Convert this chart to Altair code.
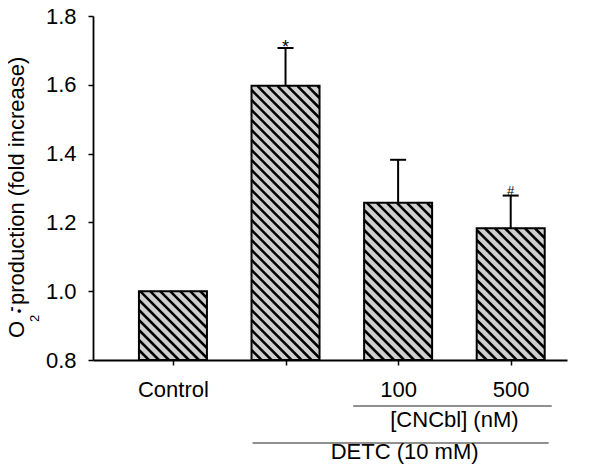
import json
import altair as alt
import pandas as pd

# ---------------- data ----------------
groups = ["Control", "DETC", "DETC + CNCbl 100 nM", "DETC + CNCbl 500 nM"]
positions = [1, 2, 3, 4]
tick_labels = ["Control", "", "100", "500"]
means = [1.0, 1.597, 1.257, 1.183]
sems = [0.0, 0.110, 0.125, 0.095]
marks = ["", "*", "", "#"]

bracket_labels = ["[CNCbl] (nM)", "DETC (10 mM)"]
bracket_first = [3, 2]
bracket_last = [4, 4]

y_ticks = [0.8, 1.0, 1.2, 1.4, 1.6, 1.8]

# ---------------- layout / style ----------------
W, H = 474, 344
XMIN, XMAX = 0.29, 4.5
YMIN, YMAX = 0.8, 1.8
PXX = W / (XMAX - XMIN)
PXY = H / (YMAX - YMIN)
BW = 68                 # bar width px
HW = BW / 2 / PXX       # half bar width in x units
CAP = 8 / PXX           # half cap width in x units
M = 1.0                 # hatch slope
S = 10.0                # hatch horizontal spacing px
FONT = "Liberation Sans"
FILL = "#cfcfcf"

df = pd.DataFrame({"group": groups, "pos": positions, "mean": means,
                   "sem": sems, "mark": marks})
brk = pd.DataFrame({"label": bracket_labels, "first": bracket_first,
                    "last": bracket_last})

xs = alt.Scale(domain=[XMIN, XMAX], nice=False, zero=False)
ys = alt.Scale(domain=[YMIN, YMAX], nice=False, zero=False)

xaxis = alt.Axis(values=positions,
                 labelExpr=f"{json.dumps(tick_labels)}[datum.value-1]",
                 title=None, grid=False, tickSize=5, labelPadding=14,
                 labelFontSize=22, labelFont=FONT, labelColor="black",
                 domainColor="black", tickColor="black", domainWidth=1.8,
                 tickWidth=1.5, labelFlush=False, labelOverlap=False)
yaxis = alt.Axis(values=y_ticks, format=".1f", title=None, grid=False,
                 tickSize=5, labelPadding=12, labelFontSize=22, labelFont=FONT,
                 labelColor="black", domainColor="black", tickColor="black",
                 domainWidth=1.8, tickWidth=1.5, labelFlush=False)

base = alt.Chart(df).transform_calculate(
    bl=f"datum.pos - {HW}", br=f"datum.pos + {HW}", base=f"{YMIN}",
    top="datum.mean + datum.sem"
)

bar_fill = base.mark_rect(fill=FILL).encode(
    x=alt.X("bl:Q", scale=xs, axis=xaxis),
    x2="br:Q",
    y=alt.Y("mean:Q", scale=ys, axis=yaxis),
    y2="base:Q",
)

stripes = base.transform_calculate(
    hpx=f"(datum.mean - {YMIN}) * {PXY}"
).transform_calculate(
    cs=f"sequence(-datum.hpx / {M}, {BW}, {S})"
).transform_flatten(["cs"]).transform_calculate(
    u1="max(0, datum.cs)"
).transform_calculate(
    u2=f"min({BW}, datum.cs + datum.hpx / {M})"
).transform_filter("datum.u2 > datum.u1").transform_calculate(
    sx=f"datum.bl + datum.u1 / {PXX}"
).transform_calculate(
    sx2=f"datum.bl + datum.u2 / {PXX}"
).transform_calculate(
    sy=f"datum.mean - {M} * (datum.u1 - datum.cs) / {PXY}"
).transform_calculate(
    sy2=f"datum.mean - {M} * (datum.u2 - datum.cs) / {PXY}"
).mark_rule(color="black", strokeWidth=2.5).encode(
    x=alt.X("sx:Q", scale=xs), x2="sx2:Q",
    y=alt.Y("sy:Q", scale=ys), y2="sy2:Q",
)

bar_edge = base.mark_rect(fillOpacity=0, stroke="black", strokeWidth=2).encode(
    x=alt.X("bl:Q", scale=xs), x2="br:Q",
    y=alt.Y("mean:Q", scale=ys), y2="base:Q",
)

err_line = base.transform_filter("datum.sem > 0").mark_rule(
    color="black", strokeWidth=2).encode(
    x=alt.X("pos:Q", scale=xs), y=alt.Y("mean:Q", scale=ys), y2="top:Q")

err_cap = base.transform_filter("datum.sem > 0").transform_calculate(
    cl=f"datum.pos - {CAP}", cr=f"datum.pos + {CAP}"
).mark_rule(color="black", strokeWidth=2).encode(
    x=alt.X("cl:Q", scale=xs), x2="cr:Q", y=alt.Y("top:Q", scale=ys))

star = base.transform_filter("datum.mark == '*'").mark_text(
    font=FONT, fontSize=18, baseline="alphabetic", align="center", dy=5,
    color="black").encode(
    x=alt.X("pos:Q", scale=xs), y=alt.Y("top:Q", scale=ys), text="mark:N")

hashm = base.transform_filter("datum.mark == '#'").mark_text(
    font=FONT, fontSize=13, baseline="alphabetic", align="center", dy=-1,
    color="black").encode(
    x=alt.X("pos:Q", scale=xs), y=alt.Y("top:Q", scale=ys), text="mark:N")

# bracket annotations under the x axis
def bracket(label, lpad, rpad, y_line, y_text, dx):
    b = alt.Chart(brk).transform_filter(alt.datum.label == label).transform_calculate(
        l=f"datum.first - {lpad / PXX}", r=f"datum.last + {rpad / PXX}"
    ).transform_calculate(mid="(datum.l + datum.r) / 2")
    line = b.mark_rule(color="#222", strokeWidth=1.2).encode(
        x=alt.X("l:Q", scale=xs), x2="r:Q", y=alt.value(y_line))
    text = b.mark_text(font=FONT, fontSize=22, align="center",
                       baseline="alphabetic", color="black", dx=dx).encode(
        x=alt.X("mid:Q", scale=xs), y=alt.value(y_text), text="label:N")
    return [line, text]

brk_layers = bracket(bracket_labels[0], 45, 41, 390, 411, 2) + \
             bracket(bracket_labels[1], 33, 38, 427, 443, 4)

# y-axis title with sub/superscripts
def tpart(txt, x, y, size, align="left", baseline="alphabetic", weight="normal"):
    return alt.Chart(pd.DataFrame({"t": [txt]})).mark_text(
        angle=270, align=align, baseline=baseline, font=FONT, fontSize=size,
        fontWeight=weight, color="black").encode(
        x=alt.value(x), y=alt.value(y), text="t:N")

title_layers = [
    tpart("O", -69, 322, 22),
    tpart("2", -54, 306, 13),
    tpart("•", -73, 295, 13, align="center", baseline="middle"),
    tpart("-", -77, 293, 15, align="center", baseline="alphabetic", weight="bold"),
    tpart(" production (fold increase)", -69, 289, 22),
]

chart = alt.layer(
    bar_fill, stripes, bar_edge, err_line, err_cap, star, hashm,
    *brk_layers, *title_layers
).properties(
    width=W, height=H,
    autosize=alt.AutoSizeParams(type="none"),
    padding={"left": 85, "top": 8, "right": 17, "bottom": 104},
).configure_view(stroke=None)

chart.save("out.html", embed_options={"renderer": "svg", "actions": False})
